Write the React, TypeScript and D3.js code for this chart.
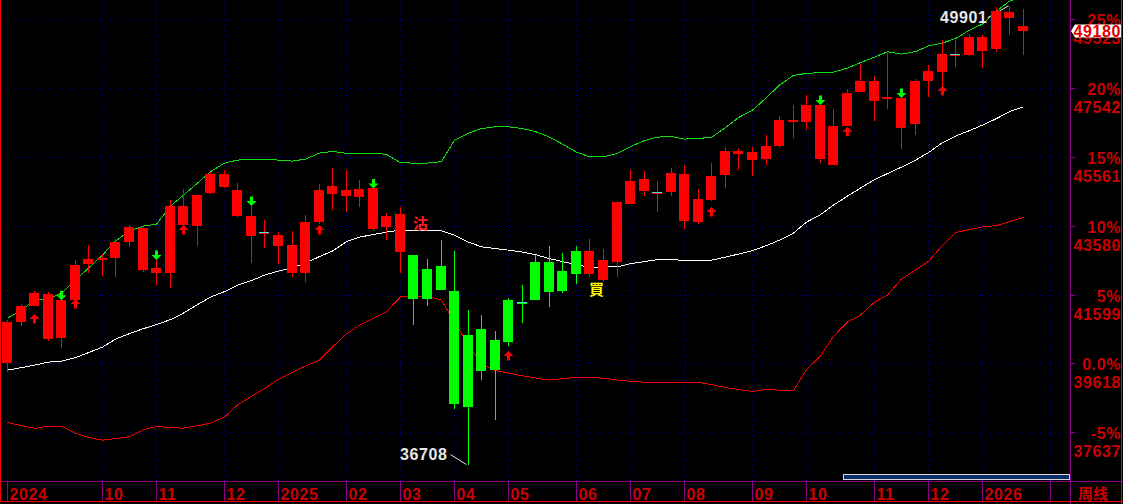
import React, { useEffect } from 'react';
import * as d3 from 'd3';

// ---- data (weekly candles) ----
const opens = [39635,40805,41274,41611,40354,41438,42483,42603,42655,43116,43518,42224,42224,44142,43567,44516,45062,44602,43854,43394,43308,43020,42224,43690,44496,44602,44410,44660,43546,43912,42733,41476,42417,41697,38370,40605,39434,40239,41381,41447,42531,41706,42195,42848,42028,42540,44214,44918,44554,44554,45062,43690,44314,45033,45714,45695,45502,45876,46615,46558,47047,45321,46452,47430,47737,47234,47257,46509,47737,48004,48513,48493,49002,48666,49721,49319];
const highs = [40863,41323,41697,41668,41467,42589,43020,42761,43184,43587,43587,42589,44314,44623,44458,45128,45177,44803,44142,43739,43394,43423,43883,44775,45235,45177,44890,44660,43940,44113,42733,42618,43164,42848,41151,41007,40547,41505,41870,42733,42992,42790,42992,43193,42905,44294,45177,45148,44861,45235,45321,44631,45378,45839,45810,45839,46184,46730,47047,47334,47047,46932,47507,48226,47881,48551,47257,47795,48197,48916,48916,49089,49060,49880,49901,49808];
const lows = [39376,40699,41259,40259,40049,41246,42224,42135,42109,42954,42253,41870,41793,43567,43001,44487,44668,43834,42511,42943,42484,42109,41965,43624,44036,43978,44122,43432,43173,42207,40728,41275,41726,38312,36708,39146,37996,40116,40786,41438,41246,41649,41907,42091,41957,42109,44200,44438,43978,44438,43481,43632,44286,44668,45185,45013,45329,45818,46106,46328,45387,45321,46443,47430,46595,46940,45790,46193,47285,47343,48148,48465,48120,48580,49068,48493];
const closes = [40805,41266,41640,40317,41438,42445,42618,42661,43106,43538,42310,42350,44142,43596,44458,45062,44697,43863,43288,43394,43001,42224,43682,44602,44717,44438,44631,43481,43854,42827,41476,42330,41735,38456,40432,39405,40288,41438,41381,42531,41677,42273,42848,42195,42589,44266,44861,44582,44554,45091,43711,44343,45005,45724,45645,45473,45867,46615,46572,47047,45502,46443,47392,47737,47162,47277,46394,47737,48024,48513,48513,49002,48608,49750,49557,49180];

const upperBand = [40921,41151,41438,41467,41640,42014,42359,42733,43136,43423,43567,43624,44142,44458,44803,45134,45379,45465,45485,45485,45465,45436,45494,45666,45715,45658,45666,45666,45629,45387,45379,45379,45422,46040,46241,46371,46428,46423,46371,46285,46126,45925,45695,45560,45560,45658,45853,46026,46126,46141,46069,46089,46118,46400,46687,46903,47262,47622,47901,47958,47981,47996,48111,48269,48427,48580,48513,48585,48749,48830,48959,49204,49376,49750,50038,50182];
const middleBand = [39425,39497,39569,39655,39684,39785,39929,40087,40317,40475,40619,40734,40878,41065,41309,41525,41683,41870,41999,42158,42273,42373,42503,42690,42848,43121,43251,43323,43395,43452,43437,43437,43432,43308,43107,42972,42920,42876,42819,42747,42632,42546,42459,42379,42388,42396,42488,42546,42603,42603,42580,42589,42589,42675,42762,42862,43006,43164,43366,43682,43897,44171,44430,44660,44904,45077,45264,45465,45681,45968,46155,46313,46471,46659,46860,46998];
const lowerBand = [37921,37829,37749,37815,37815,37613,37484,37412,37455,37513,37714,37806,37772,37757,37829,37901,38082,38419,38678,38893,39166,39368,39541,39713,40087,40469,40719,40921,41108,41534,41534,41534,41438,40806,40145,39598,39411,39339,39262,39201,39138,39181,39216,39210,39195,39138,39103,39080,39080,39080,39080,39072,39008,38922,38865,38813,38870,38850,38836,39440,39828,40395,40815,41007,41381,41583,42043,42301,42551,43012,43380,43472,43544,43581,43696,43817];

const monthTickIndex = [0, 7, 11, 16, 20, 25, 29, 33, 37, 42, 46, 50, 55, 59, 64, 68, 72, 77];
const monthLabels = ['2024', '10', '11', '12', '2025', '02', '03', '04', '05', '06', '07', '08', '09', '10', '11', '12', '2026', ''];

const basePrice = 39618;
const pctTicks = [-5, 0, 5, 10, 15, 20, 25];

const upArrowIdx = [2, 5, 13, 23, 37, 52, 62, 69];
const upArrowPrice = [41036, 41467, 43596, 43596, 39972, 44113, 46423, 47593];
const downArrowIdx = [4, 11, 18, 27, 60, 66];
const downArrowPrice = [41438, 42589, 44142, 44645, 47047, 47248];

const signalIdx = [30, 43];
const signalText = ['沽', '買'];
const signalPrice = [43495, 41596];
const signalColor = ['#ff1a1a', '#ffff00'];

const highIdx = 74;
const lowIdx = 34;
const lastPrice = 49180;

// ---- layout ----
const W = 1123;
const H = 504;
const PLOT_R = 1070;
const AXIS_Y = 481;
const NUM_FONT = '"Liberation Sans", Arial, sans-serif';
const GRID = '#0000b0';

export default function App() {
  useEffect(() => {
    document.body.style.margin = '0';
    document.body.style.background = '#000';
  }, []);

  const x = d3.scaleLinear().domain([0, 75]).range([7.1, 1022.9]);
  const y = d3.scaleLinear().domain([basePrice * 0.95, basePrice * 1.25]).range([432.3, 19]);
  const cxOf = (i: number) => Math.round(x(i));

  const lineGen = d3
    .line<number>()
    .x((_, i) => cxOf(i) + 0.5)
    .y((d) => y(d));

  const isGreen = (i: number) => i >= signalIdx[0] && i < signalIdx[1];

  const upArrow = (cx: number, ty: number) =>
    `M${cx},${ty} L${cx + 5},${ty + 5} L${cx + 1.5},${ty + 5} L${cx + 1.5},${ty + 9.5} L${cx - 1.5},${ty + 9.5} L${cx - 1.5},${ty + 5} L${cx - 5},${ty + 5} Z`;
  const downArrow = (cx: number, by: number) =>
    `M${cx},${by} L${cx + 5},${by - 5} L${cx + 1.5},${by - 5} L${cx + 1.5},${by - 9.5} L${cx - 1.5},${by - 9.5} L${cx - 1.5},${by - 5} L${cx - 5},${by - 5} Z`;

  const hx = cxOf(highIdx) + 0.5;
  const hy = y(highs[highIdx]);
  const lx = cxOf(lowIdx) + 0.5;
  const ly = y(lows[lowIdx]);
  const lastY = y(lastPrice);

  return (
    <div style={{ position: 'fixed', left: 0, top: 0, width: W, height: H, background: '#000' }}>
      <svg width={W} height={H} style={{ display: 'block', background: '#000' }}>
        <defs>
          <clipPath id="plotClip">
            <rect x={0} y={0} width={PLOT_R} height={AXIS_Y} />
          </clipPath>
        </defs>

        {/* grid */}
        {pctTicks.map((p) => {
          const gy = Math.round(y(basePrice * (1 + p / 100))) + 0.5;
          return (
            <line key={'hg' + p} x1={0} x2={PLOT_R} y1={gy} y2={gy} stroke={GRID} strokeDasharray="1 4" />
          );
        })}
        {monthTickIndex.map((mi) => {
          const gx = cxOf(mi) + 0.5;
          return (
            <line key={'vg' + mi} x1={gx} x2={gx} y1={0} y2={AXIS_Y} stroke={GRID} strokeDasharray="1 4" />
          );
        })}

        <g clipPath="url(#plotClip)">
          {/* bands */}
          <path d={lineGen(upperBand) || ''} fill="none" stroke="#11dd11" strokeWidth={1} shapeRendering="crispEdges" />
          <path d={lineGen(middleBand) || ''} fill="none" stroke="#ffffff" strokeWidth={1} shapeRendering="crispEdges" />
          <path d={lineGen(lowerBand) || ''} fill="none" stroke="#ee0000" strokeWidth={1} shapeRendering="crispEdges" />

          {/* extreme leaders */}
          <line x1={hx - 22} y1={hy + 12} x2={hx - 1} y2={hy} stroke="#e8e8e8" />
          <line x1={lx - 18} y1={ly - 10} x2={lx - 2} y2={ly} stroke="#e8e8e8" />

          {/* candles */}
          {opens.map((o, i) => {
            const c = closes[i];
            const col = isGreen(i) ? '#00ff00' : '#ff0000';
            const cx = cxOf(i);
            const top = Math.round(y(Math.max(o, c)));
            const bot = Math.round(y(Math.min(o, c)));
            const doji = o === c;
            return (
              <g key={'c' + i}>
                <line x1={cx + 0.5} x2={cx + 0.5} y1={y(highs[i])} y2={y(lows[i])} stroke={col} shapeRendering="crispEdges" />
                <rect x={cx - 5} y={top} width={10} height={Math.max(2, bot - top)} fill={col} shapeRendering="crispEdges" />
                {doji && <rect x={cx - 5} y={top} width={10} height={1} fill="#55dde6" shapeRendering="crispEdges" />}
              </g>
            );
          })}

          {/* signal arrows */}
          {upArrowIdx.map((ai, k) => (
            <path key={'ua' + ai} d={upArrow(cxOf(ai) + 0.5, y(upArrowPrice[k]))} fill="#ff0000" />
          ))}
          {downArrowIdx.map((ai, k) => (
            <path key={'da' + ai} d={downArrow(cxOf(ai) + 0.5, y(downArrowPrice[k]))} fill="#00ff00" />
          ))}

          {/* signal texts */}
          {signalIdx.map((si, k) => (
            <text
              key={'sg' + si}
              x={cxOf(si)}
              y={y(signalPrice[k])}
              fill={signalColor[k]}
              fontFamily='"Noto Sans CJK TC", "Noto Sans CJK SC", sans-serif'
              fontWeight="bold"
              fontSize={15}
            >
              {signalText[k]}
            </text>
          ))}
        </g>

        {/* extreme labels */}
        <text x={hx - 22} y={hy + 17} textAnchor="end" fill="#e8e8e8" fontFamily={NUM_FONT} fontWeight="bold" fontSize={16} letterSpacing={0.6}>
          {highs[highIdx]}
        </text>
        <text x={lx - 21} y={ly - 5} textAnchor="end" fill="#e8e8e8" fontFamily={NUM_FONT} fontWeight="bold" fontSize={16} letterSpacing={0.6}>
          {lows[lowIdx]}
        </text>

        {/* scrollbar */}
        <rect x={843.5} y={474.5} width={226} height={5} fill="#0c2c6c" stroke="#d8d8d8" />

        {/* frame lines */}
        <line x1={0} x2={W} y1={AXIS_Y + 0.5} y2={AXIS_Y + 0.5} stroke="#8a008a" />
        <line x1={PLOT_R + 0.5} x2={PLOT_R + 0.5} y1={0} y2={H} stroke="#8a008a" />
        <line x1={0.5} x2={0.5} y1={0} y2={502} stroke="#ff0000" />
        <line x1={W - 1.5} x2={W - 1.5} y1={0} y2={H} stroke="#ff0000" />
        <line x1={0} x2={W} y1={501.5} y2={501.5} stroke="#ff0000" />

        {/* bottom axis */}
        {monthTickIndex.map((mi, k) => {
          const gx = cxOf(mi) + 0.5;
          return (
            <g key={'mt' + mi}>
              <line x1={gx} x2={gx} y1={AXIS_Y} y2={501} stroke="#8a008a" />
              <text x={gx + 2} y={499.5} fill="#cc0000" fontFamily={NUM_FONT} fontWeight="bold" fontSize={16} letterSpacing={0.6}>
                {monthLabels[k]}
              </text>
            </g>
          );
        })}
        <text x={1078} y={498.5} fill="#cc0000" fontFamily='"Noto Sans CJK SC", sans-serif' fontWeight="bold" fontSize={15}>
          周线
        </text>

        {/* right axis */}
        {pctTicks.map((p) => {
          const v = basePrice * (1 + p / 100);
          const ty = Math.round(y(v)) + 0.5;
          return (
            <g key={'ra' + p}>
              <line x1={PLOT_R} x2={PLOT_R + 5} y1={ty} y2={ty} stroke="#8a008a" />
              <text x={1121} y={ty + 6} textAnchor="end" fill="#cc0000" fontFamily={NUM_FONT} fontWeight="bold" fontSize={16} letterSpacing={0.6}>
                {p === 0 ? '0.0%' : `${p}%`}
              </text>
              <text x={1121} y={ty + 24} textAnchor="end" fill="#cc0000" fontFamily={NUM_FONT} fontWeight="bold" fontSize={16} letterSpacing={0.6}>
                {Math.round(v)}
              </text>
            </g>
          );
        })}

        {/* last price tag */}
        <polygon
          points={`${PLOT_R + 1},${lastY} ${PLOT_R + 5},${lastY - 6.5} ${W - 2},${lastY - 6.5} ${W - 2},${lastY + 6.5} ${PLOT_R + 5},${lastY + 6.5}`}
          fill="#ffffff"
        />
        <text x={1121} y={lastY + 6} textAnchor="end" fill="#e00000" fontFamily={NUM_FONT} fontWeight="bold" fontSize={16} letterSpacing={0.6}>
          {lastPrice}
        </text>
      </svg>
    </div>
  );
}
